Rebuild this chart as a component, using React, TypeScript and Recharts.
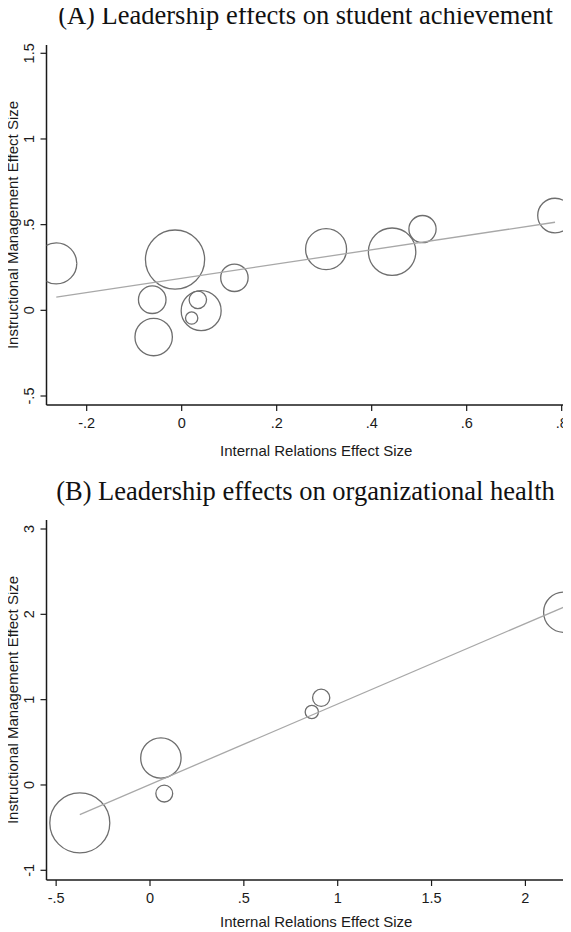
import { ScatterChart, Scatter, XAxis, YAxis, ZAxis, Label } from 'recharts'

// Panel A: leadership effects on student achievement
const xA = [-0.264, -0.014, -0.062, -0.059, 0.041, 0.034, 0.021, 0.111, 0.304, 0.443, 0.507, 0.786]
const yA = [0.274, 0.296, 0.062, -0.156, -0.002, 0.061, -0.045, 0.19, 0.357, 0.342, 0.474, 0.553]
const weightA = [420, 876, 190, 350, 400, 76, 38, 188, 420, 562, 185, 300]
const fitA = { intercept: 0.187, slope: 0.416 }
const xTicksA = [-0.2, 0, 0.2, 0.4, 0.6, 0.8]
const yTicksA = [-0.5, 0, 0.5, 1, 1.5]

// Panel B: leadership effects on organizational health
const xB = [-0.374, 0.058, 0.076, 0.862, 0.912, 2.204]
const yB = [-0.445, 0.316, -0.101, 0.855, 1.022, 2.025]
const weightB = [900, 408, 71, 44, 74, 404]
const fitB = { intercept: 0.006, slope: 0.943 }
const xTicksB = [-0.5, 0, 0.5, 1, 1.5, 2]
const yTicksB = [-1, 0, 1, 2, 3]

const X_TITLE = 'Internal Relations Effect Size'
const Y_TITLE = 'Instructional Management Effect Size'

const SANS = '"Liberation Sans", Arial, sans-serif'
const INK = '#1a1a1a'

// stata style labels: drop the leading zero (".5", "-.2")
const fmt = (v: number) => String(v).replace(/^(-?)0\./, '$1.')

const YTick = ({ x, y, payload }: any) => (
  <text
    x={x}
    y={y}
    dy={-4}
    transform={`rotate(-90, ${x}, ${y})`}
    textAnchor="middle"
    fontFamily={SANS}
    fontSize={14.5}
    fill={INK}
  >
    {fmt(payload.value)}
  </text>
)

const XTick = ({ x, y, payload }: any) => (
  <text x={x} y={y} dy={14.5} textAnchor="middle" fontFamily={SANS} fontSize={14.5} fill={INK}>
    {fmt(payload.value)}
  </text>
)

const YTitle = ({ viewBox }: any) => {
  const cx = viewBox.x + 18.3
  const cy = viewBox.y + viewBox.height / 2
  return (
    <text x={cx} y={cy} transform={`rotate(-90, ${cx}, ${cy})`} textAnchor="middle" fontFamily={SANS} fontSize={15} fill={INK}>
      {Y_TITLE}
    </text>
  )
}

const makeXTitle = (drop: number) => ({ viewBox }: any) => (
  <text x={viewBox.x + viewBox.width / 2} y={viewBox.y + drop} textAnchor="middle" fontFamily={SANS} fontSize={15} fill={INK}>
    {X_TITLE}
  </text>
)

interface PanelProps {
  title: string
  top: number
  titleTop: number
  xs: number[]
  ys: number[]
  weights: number[]
  fit: { intercept: number; slope: number }
  xTicks: number[]
  yTicks: number[]
  xDomain: [number, number]
  yDomain: [number, number]
  labelDrop: number
}

function Panel({ title, top, titleTop, xs, ys, weights, fit, xTicks, yTicks, xDomain, yDomain, labelDrop }: PanelProps) {
  const points = xs.map((x, i) => ({ x, y: ys[i], w: weights[i] }))
  const lo = Math.min(...xs)
  const hi = Math.max(...xs)
  const fitLine = [
    { x: lo, y: fit.intercept + fit.slope * lo },
    { x: hi, y: fit.intercept + fit.slope * hi },
  ]
  const axisLine = { stroke: INK, strokeWidth: 1.5 }
  const tickLine = { stroke: INK, strokeWidth: 1.2 }

  return (
    <>
      <div
        style={{
          position: 'absolute',
          top: titleTop,
          left: 0,
          width: 611,
          textAlign: 'center',
          whiteSpace: 'nowrap',
          fontFamily: '"Liberation Serif", "Times New Roman", serif',
          fontSize: 26.5,
          lineHeight: '26px',
          color: '#111',
        }}
      >
        {title}
      </div>
      <div style={{ position: 'absolute', top, left: 0 }}>
        <ScatterChart width={600} height={470} margin={{ top: 45, right: 14, bottom: 5, left: 0 }}>
          <XAxis
            type="number"
            dataKey="x"
            domain={xDomain}
            ticks={xTicks}
            allowDataOverflow
            height={60}
            axisLine={axisLine}
            tickLine={tickLine}
            tickSize={6}
            tick={<XTick />}
            interval={0}
          >
            <Label content={makeXTitle(labelDrop)} />
          </XAxis>
          <XAxis xAxisId="frame" type="number" orientation="top" domain={xDomain} height={0} tick={false} tickLine={false} axisLine={axisLine} />
          <YAxis
            type="number"
            dataKey="y"
            domain={yDomain}
            ticks={yTicks}
            allowDataOverflow
            width={46.5}
            axisLine={axisLine}
            tickLine={tickLine}
            tickSize={6}
            tick={<YTick />}
            interval={0}
          >
            <Label content={YTitle} />
          </YAxis>
          <ZAxis type="number" dataKey="w" domain={[0, 1000]} range={[0, 1000 * Math.PI]} />
          <Scatter
            data={points}
            shape="circle"
            fill="none"
            stroke="#6e6e6e"
            strokeWidth={1.3}
            isAnimationActive={false}
          />
          <Scatter
            data={fitLine}
            line={{ stroke: '#a8a8a8', strokeWidth: 1.3 }}
            shape={() => <g />}
            isAnimationActive={false}
          />
        </ScatterChart>
      </div>
    </>
  )
}

export default function App() {
  return (
    <div style={{ position: 'relative', width: 571, height: 932, overflow: 'hidden', margin: '-8px 0 0 -8px', background: '#fff' }}>
      <Panel
        title="(A) Leadership effects on student achievement"
        top={0}
        titleTop={1.5}
        xs={xA}
        ys={yA}
        weights={weightA}
        fit={fitA}
        xTicks={xTicksA}
        yTicks={yTicksA}
        xDomain={[-0.2846, 0.8512]}
        yDomain={[-0.5525, 1.5484]}
        labelDrop={50.5}
      />
      <Panel
        title="(B) Leadership effects on organizational health"
        top={475}
        titleTop={477.5}
        xs={xB}
        ys={yB}
        weights={weightB}
        fit={fitB}
        xTicks={xTicksB}
        yTicks={yTicksB}
        xDomain={[-0.5514, 2.3228]}
        yDomain={[-1.1137, 3.1055]}
        labelDrop={46.5}
      />
    </div>
  )
}
